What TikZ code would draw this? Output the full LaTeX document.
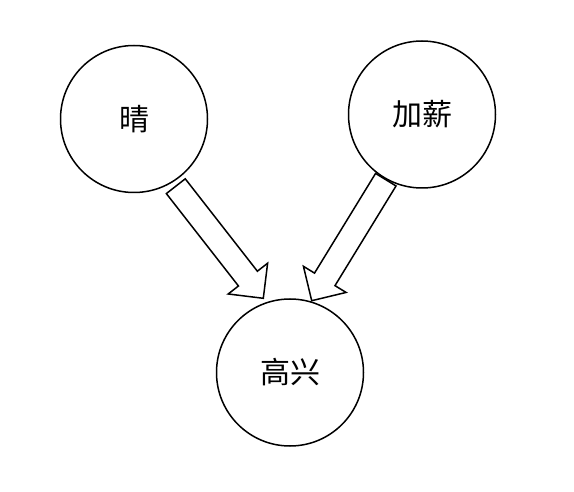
\documentclass[tikz,border=0pt]{standalone}
\usepackage{fontspec}
\newfontfamily\cjk{Noto Sans CJK SC}
\usetikzlibrary{calc}

\tikzset{
  mood/.style={draw, circle, line width=1.5pt, minimum size=147pt, inner sep=0pt,
    font=\cjk\fontsize{30}{30}\selectfont},
  blockarrow/.style={draw, line width=1.5pt, line join=miter, fill=white}
}

% hollow block arrow from #1 (tail) to #2 (tip)
\newcommand\blockarr[2]{%
  \path ($(#2)!25pt!(#1)$) coordinate (hd);
  \draw[blockarrow] ($(#1)!12pt!90:(#2)$) -- ($(hd)!12pt!90:(#2)$)
    -- ($(hd)!25pt!90:(#2)$) -- (#2) -- ($(hd)!25pt!-90:(#2)$)
    -- ($(hd)!12pt!-90:(#2)$) -- ($(#1)!12pt!-90:(#2)$) -- cycle;
}

\begin{document}
\begin{tikzpicture}[x=1pt, y=-1pt]
      \useasboundingbox (0,0) rectangle (574,492);
      \node[mood] (qing) at (134,119) {晴};
      \node[mood] (jiaxin) at (422,114.5) {加薪};
      \node[mood] (gaoxing) at (290,372.5) {高兴};
      \coordinate (qingout) at (175.8,186.2);
      \coordinate (gaoxingL) at (263.3,298.3);
      \coordinate (jiaxinout) at (385.8,179.7);
      \coordinate (gaoxingR) at (311.7,300.7);
      \blockarr{qingout}{gaoxingL}
      \blockarr{jiaxinout}{gaoxingR}
    \end{tikzpicture}
\end{document}
